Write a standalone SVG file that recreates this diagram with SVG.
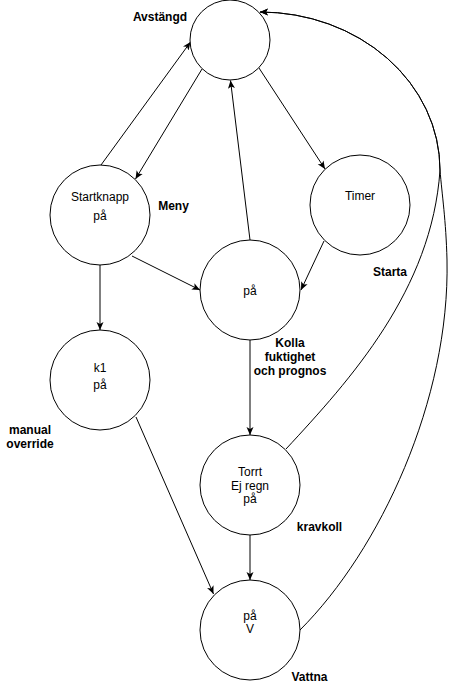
<svg xmlns="http://www.w3.org/2000/svg" width="449" height="691" viewBox="0 0 449 691">
<defs>
<style>
.node circle{fill:#fff;stroke:#000;stroke-width:1}
.nt{font-family:"Liberation Sans",Arial,Helvetica,sans-serif;font-size:12px;fill:#000;text-anchor:middle}
.lb{font-family:"Liberation Sans",Arial,Helvetica,sans-serif;font-size:12px;font-weight:bold;fill:#000;text-anchor:middle}
.edge{fill:none;stroke:#000;stroke-width:1;marker-end:url(#arr)}
</style>
<marker id="arr" viewBox="0 0 8 8" refX="8" refY="4" markerWidth="8" markerHeight="8" orient="auto" markerUnits="userSpaceOnUse">
<path d="M0,0.5 L8,4 L0,7.5 L2,4 z" fill="#000"/>
</marker>
</defs>
<rect width="449" height="691" fill="#fff"/>
<g id="connectors">
<path class="edge" d="M101,165 L190.5,42"/>
<path class="edge" d="M202,69 L135.5,179"/>
<path class="edge" d="M250,240 L230.5,80.5"/>
<path class="edge" d="M259,68 L325,169"/>
<path class="edge" d="M324,241 L301,290"/>
<path class="edge" d="M132,256 L200,290"/>
<path class="edge" d="M100,265 L100,330"/>
<path class="edge" d="M250,340 L250,435"/>
<path class="edge" d="M136,417 L213.5,594"/>
<path class="edge" d="M250,535 L250,580"/>
<path class="edge" d="M286,449 C350,380 432,290 440,170 A180 158 0 0 0 260,12"/>
<path class="edge" d="M300,630 C380,550 450,400 447,260 C446,220 442,195 440,170 A180 158 0 0 0 260,12"/>
</g>
<g id="avstangd" class="node"><circle cx="230" cy="40" r="40"/></g>
<g id="startknapp" class="node"><circle cx="100" cy="215" r="50"/><text class="nt" x="100" y="200.5">Startknapp</text><text class="nt" x="100" y="219.5">på</text></g>
<g id="timer" class="node"><circle cx="360" cy="205" r="50"/><text class="nt" x="360" y="200">Timer</text></g>
<g id="pa" class="node"><circle cx="250" cy="290" r="50"/><text class="nt" x="250" y="294.5">på</text></g>
<g id="k1" class="node"><circle cx="100" cy="380" r="50"/><text class="nt" x="100" y="371.5">k1</text><text class="nt" x="100" y="389">på</text></g>
<g id="torrt" class="node"><circle cx="250" cy="485" r="50"/><text class="nt" x="250" y="475.5">Torrt</text><text class="nt" x="250" y="489.5">Ej regn</text><text class="nt" x="250" y="503">på</text></g>
<g id="vattna" class="node"><circle cx="250" cy="630" r="50"/><text class="nt" x="250" y="619.5">på</text><text class="nt" x="250" y="633">V</text></g>
<g id="labels">
<text class="lb" x="160" y="21">Avstängd</text>
<text class="lb" x="173.5" y="209.5">Meny</text>
<text class="lb" x="390" y="276">Starta</text>
<text class="lb" x="290" y="347">Kolla</text>
<text class="lb" x="290" y="361">fuktighet</text>
<text class="lb" x="290" y="375">och prognos</text>
<text class="lb" x="30" y="434">manual</text>
<text class="lb" x="30" y="447.5">override</text>
<text class="lb" x="319.5" y="531">kravkoll</text>
<text class="lb" x="309.5" y="680.5">Vattna</text>
</g>
</svg>
